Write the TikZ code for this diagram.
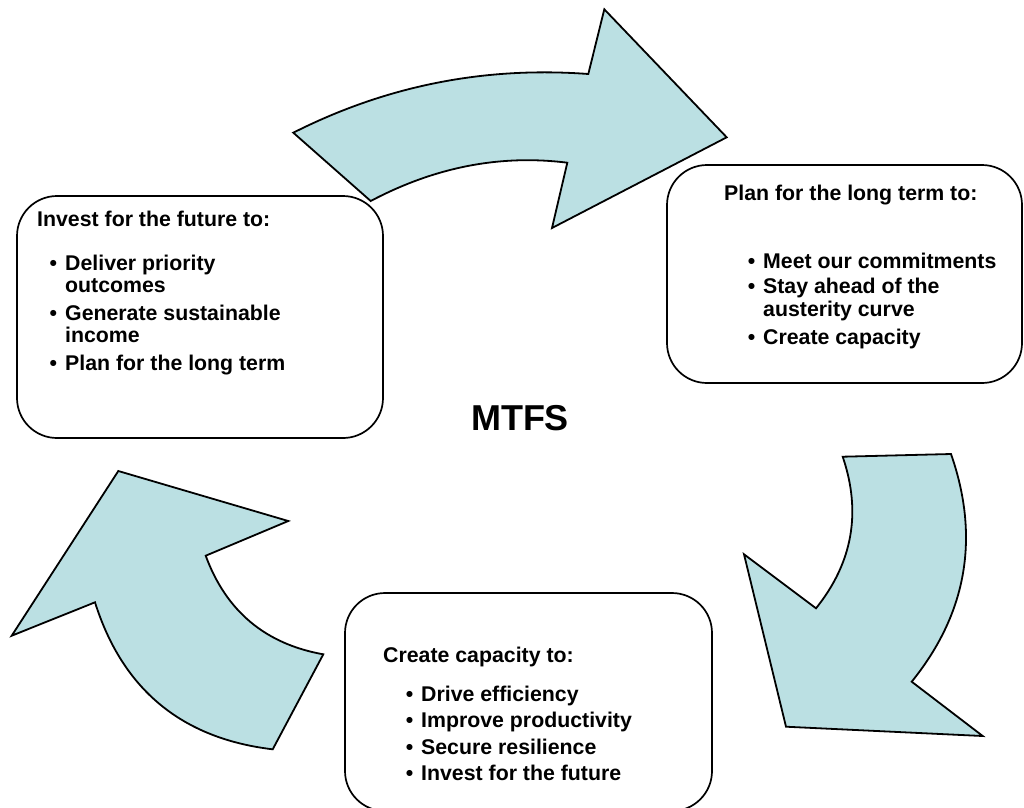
\documentclass[tikz,border=0pt]{standalone}
\usepackage{fontspec}
\setmainfont{Liberation Sans}
\definecolor{arrowfill}{RGB}{187,224,227}
\begin{document}
\begin{tikzpicture}[x=1pt,y=-1pt,
  arrowshape/.style={fill=arrowfill, draw=black, line width=1.8pt, line join=miter},
  boxshape/.style={draw=black, line width=1.7pt, rounded corners=40pt, fill=white, inner sep=0pt},
  txt/.style={anchor=base west, inner sep=0pt, font=\fontsize{21.3}{25}\selectfont\bfseries},
  bigtxt/.style={anchor=base, inner sep=0pt, font=\fontsize{36}{40}\selectfont\bfseries}
]
\useasboundingbox (0,0) rectangle (1024,807);
\newcommand{\bul}{\llap{\textbullet\hspace{8pt}}}

% curved arrows
\draw[arrowshape] (293.3,132.7) .. controls (385.9,85.9) and (484.2,66.2) .. (588.3,74)
  -- (604.3,9.3) -- (726.7,137.3) -- (552,228) -- (567.3,162.7)
  .. controls (500.3,154.3) and (435,167) .. (370.7,201) -- cycle;
\draw[arrowshape] (951,454) -- (842.7,456.7) .. controls (861.6,512.3) and (852.6,562.6) .. (816,608.3)
  -- (744,554.3) -- (786,726.7) -- (982.7,736) -- (911.7,681.7)
  .. controls (967,613.2) and (980,537.2) .. (951,454) -- cycle;
\draw[arrowshape] (323.3,654.3) .. controls (265.3,644) and (226.1,611.1) .. (205.7,555.7)
  -- (288.3,521) -- (118.3,471) -- (11.7,635.7) -- (95,602.3)
  .. controls (122.5,689.5) and (181.8,738.5) .. (272.7,749.3) -- cycle;

% boxes
\node[boxshape, minimum width=366pt, minimum height=242pt] (investbox) at (200,317) {};
\node[boxshape, minimum width=355pt, minimum height=218pt] (planbox) at (844.5,274) {};
\node[boxshape, minimum width=367pt, minimum height=218pt] (capbox) at (528.5,702) {};

% left box text
\node[txt] (i0) at (37,226) {Invest for the future to:};
\node[txt] (i1) at (65,270) {\bul Deliver priority};
\node[txt] (i2) at (65,292) {outcomes};
\node[txt] (i3) at (65,320) {\bul Generate sustainable};
\node[txt] (i4) at (65,342) {income};
\node[txt] (i5) at (65,370) {\bul Plan for the long term};

% right box text
\node[txt] (p0) at (724,200) {Plan for the long term to:};
\node[txt] (p1) at (763,268) {\bul Meet our commitments};
\node[txt] (p2) at (763,293.5) {\bul Stay ahead of the};
\node[txt] (p3) at (763,316.5) {austerity curve};
\node[txt] (p4) at (763,344) {\bul Create capacity};

% bottom box text
\node[txt] (c0) at (383,662) {Create capacity to:};
\node[txt] (c1) at (421,701) {\bul Drive efficiency};
\node[txt] (c2) at (421,727.5) {\bul Improve productivity};
\node[txt] (c3) at (421,754) {\bul Secure resilience};
\node[txt] (c4) at (421,780.5) {\bul Invest for the future};

% centre label
\node[bigtxt] (mtfs) at (520,430.7) {MTFS};
\end{tikzpicture}
\end{document}
